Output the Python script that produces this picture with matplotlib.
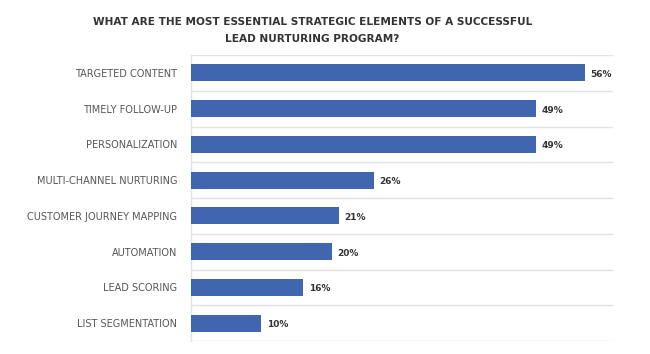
import matplotlib
matplotlib.use("Agg")
import matplotlib.pyplot as plt
import numpy as np

categories = ["TARGETED CONTENT", "TIMELY FOLLOW-UP", "PERSONALIZATION",
              "MULTI-CHANNEL NURTURING", "CUSTOMER JOURNEY MAPPING",
              "AUTOMATION", "LEAD SCORING", "LIST SEGMENTATION"]
values = [56, 49, 49, 26, 21, 20, 16, 10]
value_labels = ["56%", "49%", "49%", "26%", "21%", "20%", "16%", "10%"]
title = "WHAT ARE THE MOST ESSENTIAL STRATEGIC ELEMENTS OF A SUCCESSFUL\nLEAD NURTURING PROGRAM?"

fig = plt.figure(figsize=(6.5, 3.54), dpi=100)
ax = fig.add_axes([0.2938, 0.0367, 0.943 - 0.2938, 0.8446 - 0.0367])

y = np.arange(len(categories))
ax.barh(y, values, height=0.47, color="#4066b0", edgecolor="none", zorder=3)
ax.set_ylim(len(categories) - 0.5, -0.5)
ax.set_xlim(0, 60)

ax.set_yticks(y)
ax.set_yticklabels(categories, fontsize=7, color="#555555")
ax.tick_params(axis="y", length=0, pad=10)
ax.set_xticks([])
ax.set_yticks(np.arange(len(categories) + 1) - 0.5, minor=True)
ax.tick_params(axis="y", which="minor", length=0)
ax.grid(axis="y", which="minor", color="#e3e3e3", linewidth=1.0, zorder=0)

for s in ["top", "right", "bottom"]:
    ax.spines[s].set_visible(False)
ax.spines["left"].set_color("#e3e3e3")
ax.spines["left"].set_linewidth(1.0)

for yi, v, lab in zip(y, values, value_labels):
    ax.annotate(lab, (v, yi), xytext=(4, -1), textcoords="offset points",
                ha="left", va="center", fontsize=6.5, fontweight="bold",
                color="#333333")

fig.text(0.481, 0.913, title, ha="center", va="center", fontsize=7.6,
         fontweight="bold", color="#333333", linespacing=1.9)

fig.savefig("out.png", dpi=100, facecolor="white")
